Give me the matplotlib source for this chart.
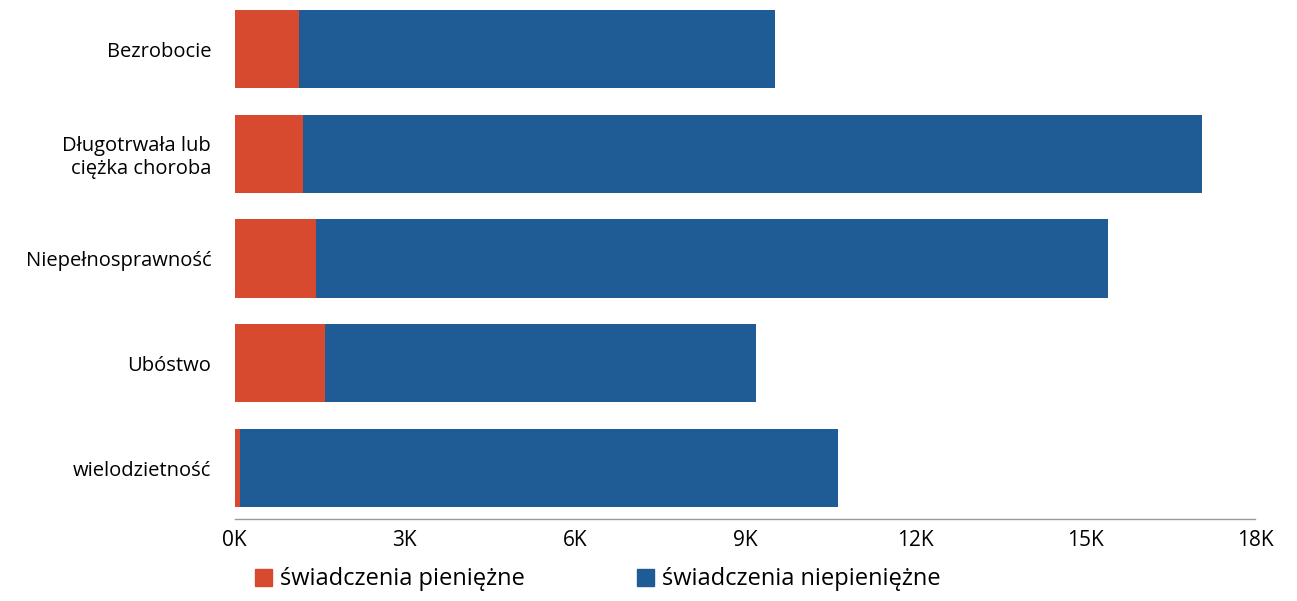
import matplotlib.pyplot as plt
from matplotlib.patches import Patch

# dane (w tysiącach)
kategorie = ['Bezrobocie', 'Długotrwała lub\nciężka choroba', 'Niepełnosprawność',
             'Ubóstwo', 'wielodzietność']
pieniezne = [1.13, 1.2, 1.43, 1.6, 0.1]
razem = [9.53, 17.06, 15.4, 9.19, 10.65]
niepieniezne = [r - p for r, p in zip(razem, pieniezne)]
ticki = [0, 3, 6, 9, 12, 15, 18]
etykiety_x = ['0K', '3K', '6K', '9K', '12K', '15K', '18K']

czerwony = '#d84a30'
niebieski = '#1f5b95'

plt.rcParams['font.family'] = ['Open Sans', 'DejaVu Sans']

fig = plt.figure(figsize=(12.97, 6.01), dpi=100)
ax = fig.add_axes([0.181, 0.1364, 0.7866, 0.8636])

y = list(range(len(kategorie)))
ax.barh(y, pieniezne, height=0.745, color=czerwony, edgecolor='none')
ax.barh(y, niepieniezne, left=pieniezne, height=0.745, color=niebieski, edgecolor='none')

ax.set_ylim(4.487, -0.468)
ax.set_xlim(0, 18)
ax.set_xticks(ticks=ticki, labels=etykiety_x)
ax.set_yticks(ticks=y, labels=kategorie)
ax.tick_params(axis='y', length=0, pad=17, labelsize=14.5)
ax.tick_params(axis='x', length=0, pad=8, labelsize=15)
for lab in ax.get_yticklabels():
    lab.set_horizontalalignment('right')
    lab.set_multialignment('right')

for s in ['top', 'right', 'left']:
    ax.spines[s].set_visible(False)
ax.spines['bottom'].set_color('#999999')
ax.spines['bottom'].set_linewidth(1.0)

uchwyty = [Patch(color=czerwony, label='świadczenia pieniężne'),
           Patch(color=niebieski, label='świadczenia niepieniężne')]
fig.legend(handles=uchwyty, loc='center left', bbox_to_anchor=(0.1894, 0.036),
           ncol=2, frameon=False, fontsize=17, handlelength=0.72, handleheight=0.72,
           handletextpad=0.34, columnspacing=4.75, borderaxespad=0)

fig.savefig('out.png', dpi=100)
